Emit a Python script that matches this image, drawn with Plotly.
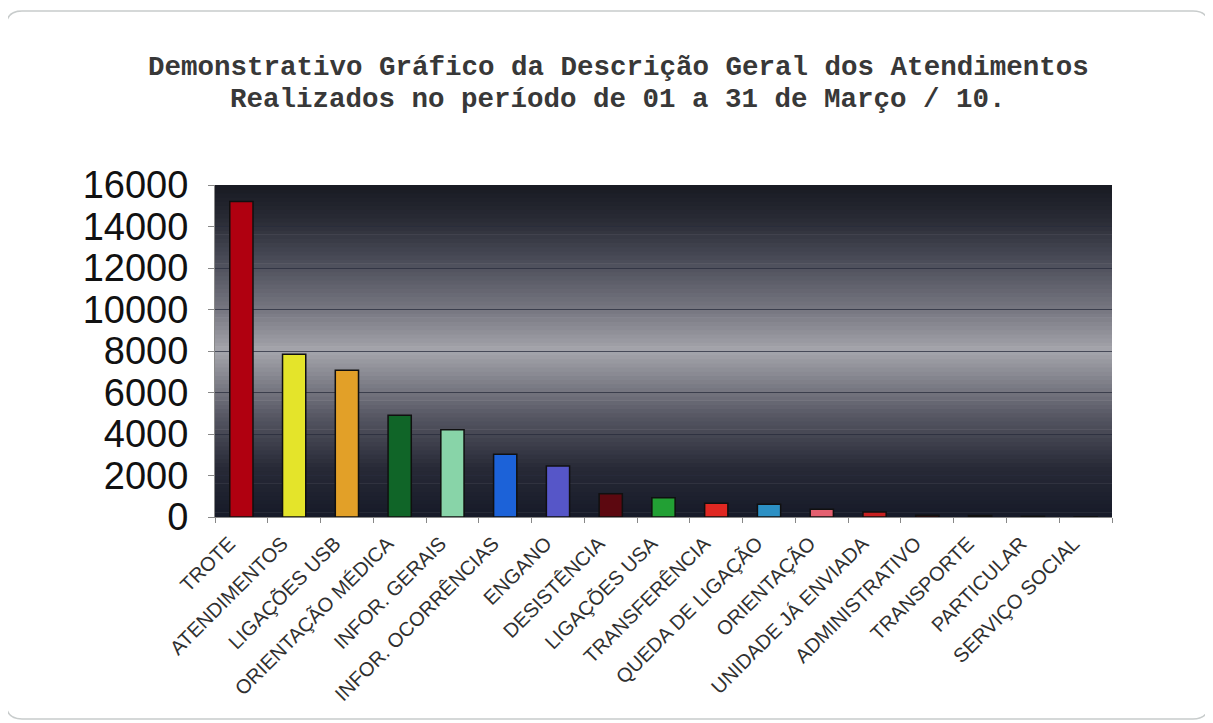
import plotly.graph_objects as go

categories = ["TROTE", "ATENDIMENTOS", "LIGAÇÕES USB", "ORIENTAÇÃO MÉDICA", "INFOR. GERAIS",
              "INFOR. OCORRÊNCIAS", "ENGANO", "DESISTÊNCIA", "LIGAÇÕES USA", "TRANSFERÊNCIA",
              "QUEDA DE LIGAÇÃO", "ORIENTAÇÃO", "UNIDADE JÁ ENVIADA", "ADMINISTRATIVO",
              "TRANSPORTE", "PARTICULAR", "SERVIÇO SOCIAL"]
values = [15200, 7840, 7070, 4900, 4210, 3020, 2460, 1120, 930, 660, 610, 370, 240, 80, 70, 30, 5]
bar_colors = ["#b00010", "#e4e42a", "#e2a028", "#106528", "#88d4a8", "#1c62d8", "#5656c8",
              "#5c0810", "#22a034", "#e02822", "#2c90c4", "#e46070", "#c82020", "#6a1010",
              "#701818", "#282020", "#303030"]
y_ticks = [0, 2000, 4000, 6000, 8000, 10000, 12000, 14000, 16000]

title_lines = ["Demonstrativo Gráfico da Descrição Geral dos Atendimentos",
               "Realizados no período de 01 a 31 de Março / 10."]

OFF = 8  # browser body margin
W, H = 1213 - OFF, 723 - OFF
L, R, T, B = 215 - OFF, 1112 - OFF, 185 - OFF, 517 - OFF

fig = go.Figure()
fig.add_trace(go.Bar(
    x=categories, y=values,
    marker=dict(color=bar_colors, line=dict(color="#101010", width=1.5)),
    width=0.44,
))

# gradient background for plot area (horizontal bands)
stops = [(0.0, (22, 26, 40)), (0.15, (40, 42, 55)), (0.3, (85, 86, 98)), (0.5, (165, 165, 172)),
         (0.62, (120, 120, 130)), (0.78, (72, 74, 86)), (0.9, (40, 42, 52)), (1.0, (24, 26, 34))]


def col_at(f):
    for (f0, c0), (f1, c1) in zip(stops[:-1], stops[1:]):
        if f0 <= f <= f1:
            t = (f - f0) / (f1 - f0)
            return "rgb(%d,%d,%d)" % tuple(round(a + (b - a) * t) for a, b in zip(c0, c1))
    return "rgb(%d,%d,%d)" % stops[-1][1]


shapes = []
N = 80
for i in range(N):
    y0 = i / N
    y1 = (i + 1) / N + 0.002
    shapes.append(dict(type="rect", xref="paper", yref="paper", x0=0, x1=1, y0=y0, y1=min(y1, 1),
                       fillcolor=col_at((i + 0.5) / N), line=dict(width=0), layer="below"))

# rounded outer card border
pw, ph = R - L, B - T


def px(x):
    return (x - OFF - L) / pw


def py(y):
    return (B - (y - OFF)) / ph


x0, x1, y0, y1, r = 6, 1209, 11, 719, 16
path = (f"M {px(x0 + r)},{py(y0)} L {px(x1 - r)},{py(y0)} Q {px(x1)},{py(y0)} {px(x1)},{py(y0 + r)} "
        f"L {px(x1)},{py(y1 - r)} Q {px(x1)},{py(y1)} {px(x1 - r)},{py(y1)} "
        f"L {px(x0 + r)},{py(y1)} Q {px(x0)},{py(y1)} {px(x0)},{py(y1 - r)} "
        f"L {px(x0)},{py(y0 + r)} Q {px(x0)},{py(y0)} {px(x0 + r)},{py(y0)} Z")
shapes.append(dict(type="path", xref="paper", yref="paper", path=path,
                   line=dict(color="#c8cccc", width=1.5), layer="below"))

title_font = dict(family="Liberation Mono, Courier New, monospace", size=27.5, color="#383838",
                  weight="bold")
annotations = []
for line, ypix in zip(title_lines, [67, 100]):
    annotations.append(dict(text=line, showarrow=False, xref="paper", yref="paper",
                            x=px(618), y=py(ypix), xanchor="center", yanchor="middle",
                            font=title_font))

fig.update_layout(
    width=W, height=H,
    margin=dict(l=L, r=W - R, t=T, b=H - B, pad=0),
    paper_bgcolor="white",
    plot_bgcolor="rgba(0,0,0,0)",
    showlegend=False,
    shapes=shapes,
    annotations=annotations,
    bargap=0.56,
)
fig.update_xaxes(
    type="category", tickangle=-45, tickson="boundaries", ticks="outside", ticklen=5,
    tickcolor="#888888", showline=True, linecolor="#888888", linewidth=1,
    tickfont=dict(family="Liberation Sans, Arial, sans-serif", size=20, color="#303030"),
    ticklabelstandoff=6, ticklabelshift=-12,
    showgrid=False, mirror=False, automargin=False,
)
fig.update_yaxes(
    range=[0, 16000], tickvals=y_ticks, tickformat="d", ticks="outside", ticklen=6, tickcolor="#888888",
    showline=True, linecolor="#888888", showgrid=True, gridcolor="rgba(40,44,60,0.75)", gridwidth=1,
    tickfont=dict(family="Liberation Sans, Arial, sans-serif", size=38, color="#111111"),
    ticklabelstandoff=12,
    zeroline=False, automargin=False,
)

fig.write_html("out.html")
